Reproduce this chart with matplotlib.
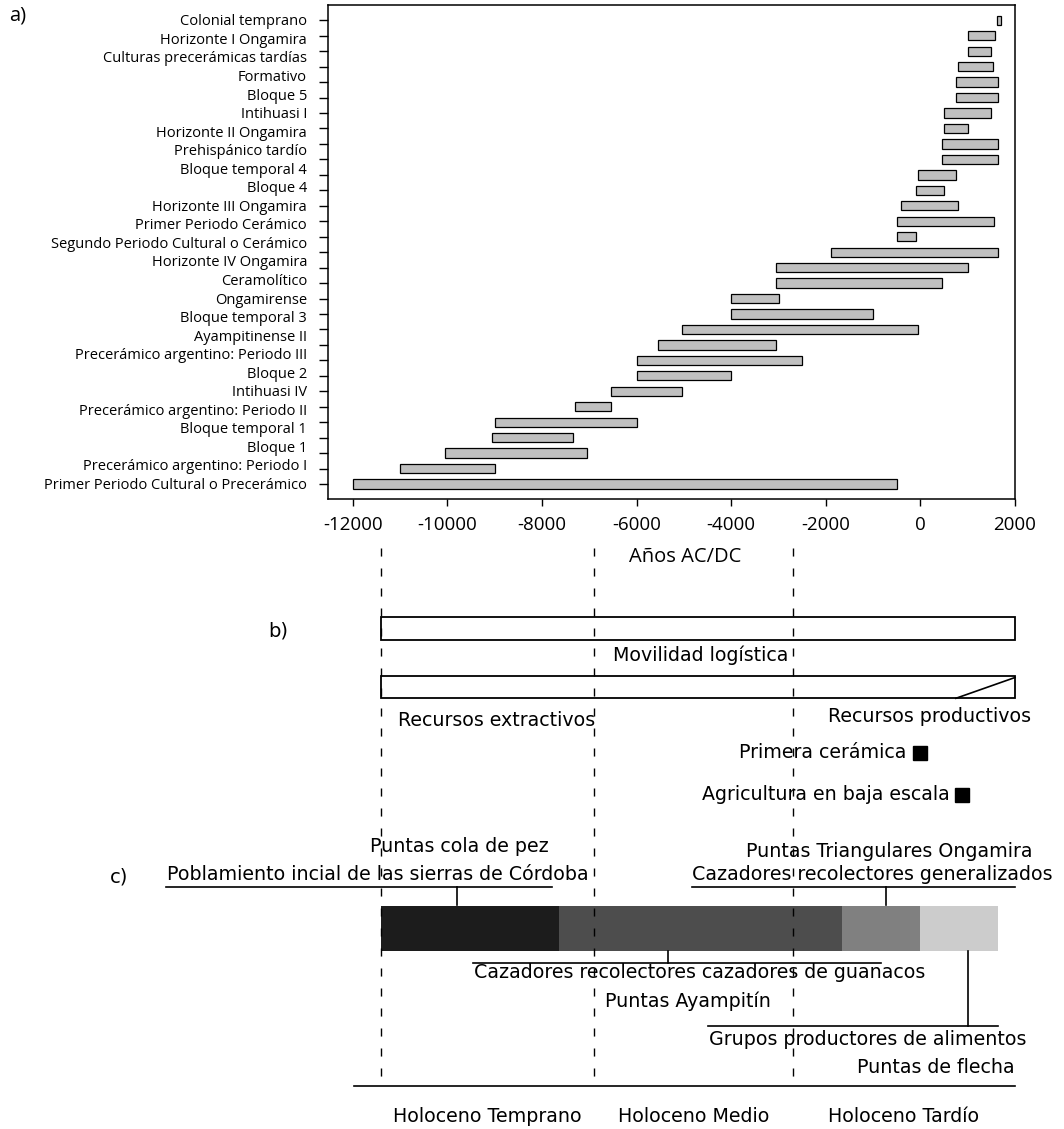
import numpy as np
import matplotlib.pyplot as plt
from matplotlib.patches import Rectangle

plt.rcParams['font.family'] = ['Open Sans', 'DejaVu Sans']

# a) periodos culturales (años AC/DC), de arriba hacia abajo
bar_starts = [1620, 1000, 1000, 800, 750, 750, 500, 500, 450, 450,
              -50, -100, -400, -500, -500, -1900, -3050, -3050, -4000, -4000,
              -5050, -5550, -6000, -6000, -6550, -7300, -9000, -9050, -10050, -11000,
              -12000]
bar_ends = [1700, 1580, 1500, 1540, 1650, 1650, 1500, 1000, 1650, 1650,
            750, 500, 800, 1550, -100, 1650, 1000, 450, -3000, -1000,
            -50, -3050, -2500, -4000, -5050, -6550, -6000, -7350, -7050, -9000,
            -500]
period_labels = ["Colonial temprano", "Horizonte I Ongamira", "Culturas precerámicas tardías",
                 "Formativo", "Bloque 5", "Intihuasi I", "Horizonte II Ongamira",
                 "Prehispánico tardío", "Bloque temporal 4", "Bloque 4",
                 "Horizonte III Ongamira", "Primer Periodo Cerámico",
                 "Segundo Periodo Cultural o Cerámico", "Horizonte IV Ongamira",
                 "Ceramolítico", "Ongamirense", "Bloque temporal 3", "Ayampitinense II",
                 "Precerámico argentino: Periodo III", "Bloque 2", "Intihuasi IV",
                 "Precerámico argentino: Periodo II", "Bloque temporal 1", "Bloque 1",
                 "Precerámico argentino: Periodo I", "Primer Periodo Cultural o Precerámico"]
x_ticks = [-12000, -10000, -8000, -6000, -4000, -2000, 0, 2000]

# b) y c)
holocene_bounds = [-11400, -6900, -2700, 2000]
holocene_names = ["Holoceno Temprano", "Holoceno Medio", "Holoceno Tardío"]
stage_bounds = [-11400, -7650, -1650, 0, 1650]
stage_colors = ["#1c1c1c", "#4d4d4d", "#808080", "#cccccc"]
productive_start = 750
first_pottery = 0
small_agriculture = 880

W, H = 1064, 1129


def px_box(l, t, r, b):
    return [l / W, 1 - b / H, (r - l) / W, (b - t) / H]


fig = plt.figure(figsize=(W / 100, H / 100), dpi=100)

# ---------------- a)
ax = fig.add_axes(px_box(328.3, 5, 1015, 499.3))
starts = np.array(bar_starts)
ends = np.array(bar_ends)
ypos = np.arange(len(starts))
ax.barh(ypos, ends - starts, left=starts, height=0.6, color='#c0c0c0',
        edgecolor='black', linewidth=0.9)
ax.set_xlim(-12520, 2000)
ax.set_ylim(len(starts) - 0.01, -0.99)
ax.set_yticks(ypos)
ax.set_yticklabels([])
ax.set_xticks(x_ticks)
ax.set_xticklabels([str(t) for t in x_ticks], fontsize=13.5)
ax.tick_params(axis='y', length=6.5, width=1)
ax.tick_params(axis='x', length=5, width=1, pad=7)
for s in ax.spines.values():
    s.set_linewidth(1.1)
ax.set_xlabel("Años AC/DC", fontsize=14.5)
ax.xaxis.set_label_coords(0.52, -0.097)

label_y = np.linspace(0.1, len(starts) - 0.9, len(period_labels))
for yy, lab in zip(label_y, period_labels):
    ax.text(-0.031, yy, lab, transform=ax.get_yaxis_transform(), ha='right',
            va='center', fontsize=10.5)

fig.text(9 / W, 1 - 15 / H, "a)", fontsize=14.5, va='center', ha='left')

# ---------------- b) y c)
bx = fig.add_axes(px_box(328.3, 500, 1015, 1129))
bx.set_xlim(ax.get_xlim())
bx.set_ylim(1129, 500)
bx.axis('off')
tk = dict(family='DejaVu Sans', fontsize=13.7, va='center', clip_on=False)
lk = dict(color='black', linewidth=1.2, clip_on=False)

bx.vlines(holocene_bounds[:3], 548, 1080, colors='black', linewidth=1,
          linestyles=[(0, (5.8, 8.6))], clip_on=False)

fig.text(268 / W, 1 - 631 / H, "b)", family='DejaVu Sans', fontsize=14, va='center')
span = holocene_bounds[-1] - holocene_bounds[0]
bx.add_patch(Rectangle((holocene_bounds[0], 617.3), span, 22.7, fill=False,
                       edgecolor='black', linewidth=1.3, clip_on=False))
bx.text(-6490, 655, "Movilidad logística", ha='left', **tk)
bx.add_patch(Rectangle((holocene_bounds[0], 676), span, 22.3, fill=False,
                       edgecolor='black', linewidth=1.3, clip_on=False))
bx.plot([productive_start, holocene_bounds[-1]], [698.3, 677.5], **lk)
bx.text(-11050, 721, "Recursos extractivos", ha='left', **tk)
bx.text(-1960, 716, "Recursos productivos", ha='left', **tk)
bx.plot([first_pottery, small_agriculture], [752.5, 795], 's', color='black',
        markersize=10, clip_on=False)
bx.text(-290, 752, "Primera cerámica", ha='right', **tk)
bx.text(620, 795, "Agricultura en baja escala", ha='right', **tk)

fig.text(110 / W, 1 - 877 / H, "c)", family='DejaVu Sans', fontsize=14, va='center')
widths = np.diff(stage_bounds)
bx.barh(928.4, widths, left=stage_bounds[:-1], height=44.7, color=stage_colors,
        edgecolor='none', clip_on=False)

# anotaciones sobre la barra
bx.text(-11640, 847, "Puntas cola de pez", ha='left', **tk)
bx.text(-15930, 874.5, "Poblamiento incial de las sierras de Córdoba", ha='left', **tk)
bx.plot([-15950, -7790], [886.7, 886.7], **lk)
bx.plot([-9800, -9800], [886.7, 905], **lk)
bx.text(-3690, 851.5, "Puntas Triangulares Ongamira", ha='left', **tk)
bx.text(-4830, 874, "Cazadores recolectores generalizados", ha='left', **tk)
bx.plot([-4830, 2000], [886.7, 886.7], **lk)
bx.plot([-730, -730], [886.7, 905], **lk)

# anotaciones bajo la barra
bx.plot([-9470, -830], [963.3, 963.3], **lk)
bx.plot([-5340, -5340], [951, 963.3], **lk)
bx.text(-9440, 973, "Cazadores recolectores cazadores de guanacos", ha='left', **tk)
bx.text(-6670, 1001.5, "Puntas Ayampitín", ha='left', **tk)
bx.plot([-4490, 1640], [1026, 1026], **lk)
bx.plot([1010, 1010], [951, 1026], **lk)
bx.text(-4475, 1039.5, "Grupos productores de alimentos", ha='left', **tk)
bx.text(2000, 1067.5, "Puntas de flecha", ha='right', **tk)

bx.plot([-11970, 2000], [1085.7, 1085.7], **lk)
for a, b, name in zip(holocene_bounds[:-1], holocene_bounds[1:], holocene_names):
    bx.text((a + b) / 2, 1116, name, ha='center', **tk)

fig.savefig("out.png", dpi=100)
